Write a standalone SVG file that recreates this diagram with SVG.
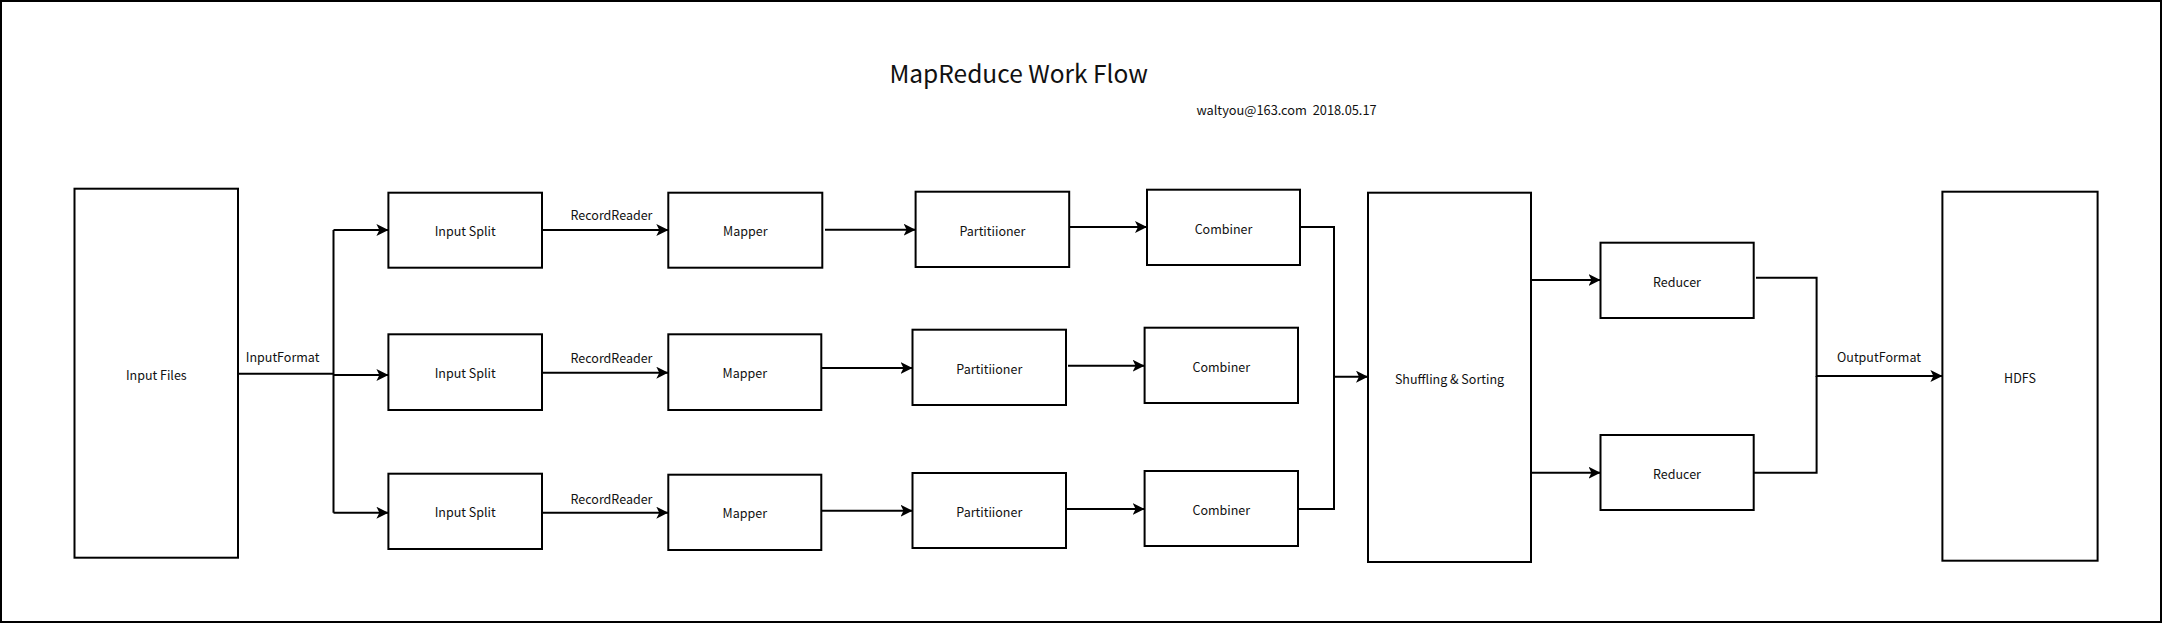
<svg xmlns="http://www.w3.org/2000/svg" width="2163" height="624" viewBox="0 0 2163 624">
<style>
.box{fill:#fff;stroke:#000;stroke-width:2}
.lbl{font-family:"Noto Sans CJK SC","Liberation Sans",sans-serif;font-size:12.5px;fill:#111;text-anchor:middle}
.edge{fill:none;stroke:#000;stroke-width:2}
.title{font-family:"Noto Sans CJK SC","Liberation Sans",sans-serif;font-size:24.5px;fill:#111;text-anchor:middle}
.sub{font-family:"Noto Sans CJK SC","Liberation Sans",sans-serif;font-size:12.8px;fill:#111}
</style>
<defs>
<marker id="arr" viewBox="0 0 12 12" markerWidth="12" markerHeight="12" refX="12" refY="6" orient="auto" markerUnits="userSpaceOnUse">
<path d="M0,0 L12,6 L0,12 L3,6 Z" fill="#000"/>
</marker>
</defs>
<rect x="0" y="0" width="2163" height="624" fill="#fff"/>
<rect id="frame" x="1" y="1" width="2160" height="621" fill="none" stroke="#000" stroke-width="2"/>
<g id="title"><text class="title" x="1018.7" y="82.7">MapReduce Work Flow</text></g>
<g id="subtitle"><text class="sub" x="1196.4" y="115" style="white-space:pre">waltyou@163.com  2018.05.17</text></g>

<g id="connectors">
<path class="edge" d="M238,373.7 H333.5"/>
<path class="edge" d="M333.5,230 V512.7"/>
<path class="edge" d="M333.5,230 H388.4" marker-end="url(#arr)"/>
<path class="edge" d="M333.5,375 H388.4" marker-end="url(#arr)"/>
<path class="edge" d="M333.5,512.7 H388.4" marker-end="url(#arr)"/>
<path class="edge" d="M542,230 H668.3" marker-end="url(#arr)"/>
<path class="edge" d="M542,372.7 H668.3" marker-end="url(#arr)"/>
<path class="edge" d="M542,512.7 H668.3" marker-end="url(#arr)"/>
<path class="edge" d="M825,229.7 H915.6" marker-end="url(#arr)"/>
<path class="edge" d="M821,368 H912.5" marker-end="url(#arr)"/>
<path class="edge" d="M821,510.7 H912.5" marker-end="url(#arr)"/>
<path class="edge" d="M1069,227 H1147" marker-end="url(#arr)"/>
<path class="edge" d="M1068,365.7 H1144.6" marker-end="url(#arr)"/>
<path class="edge" d="M1066,509 H1144.6" marker-end="url(#arr)"/>
<path class="edge" d="M1300,227 H1334 V376.7 H1368" marker-end="url(#arr)"/>
<path class="edge" d="M1298,509 H1334 V376.7"/>
<path class="edge" d="M1531,280 H1600.5" marker-end="url(#arr)"/>
<path class="edge" d="M1531,472.7 H1600.5" marker-end="url(#arr)"/>
<path class="edge" d="M1756,277.7 H1816.6 V376 H1942.4" marker-end="url(#arr)"/>
<path class="edge" d="M1753.7,472.7 H1816.6 V376"/>
<text class="lbl" x="282.6" y="362">InputFormat</text>
<text class="lbl" x="611.5" y="220">RecordReader</text>
<text class="lbl" x="611.5" y="363">RecordReader</text>
<text class="lbl" x="611.5" y="504">RecordReader</text>
<text class="lbl" x="1879" y="362">OutputFormat</text>
</g>

<g id="inputFiles"><rect class="box" x="74.5" y="188.7" width="163.5" height="369"/><text class="lbl" x="156.3" y="379.5">Input Files</text></g>
<g id="split1"><rect class="box" x="388.4" y="192.7" width="153.6" height="75"/><text class="lbl" x="465.2" y="236">Input Split</text></g>
<g id="split2"><rect class="box" x="388.4" y="334.3" width="153.6" height="75.7"/><text class="lbl" x="465.2" y="378">Input Split</text></g>
<g id="split3"><rect class="box" x="388.4" y="473.7" width="153.6" height="75.3"/><text class="lbl" x="465.2" y="517.3">Input Split</text></g>
<g id="mapper1"><rect class="box" x="668.3" y="192.7" width="154" height="75"/><text class="lbl" x="745.3" y="236">Mapper</text></g>
<g id="mapper2"><rect class="box" x="668.3" y="334.3" width="153" height="75.7"/><text class="lbl" x="744.8" y="378">Mapper</text></g>
<g id="mapper3"><rect class="box" x="668.3" y="474.7" width="153" height="75.3"/><text class="lbl" x="744.8" y="518.3">Mapper</text></g>
<g id="part1"><rect class="box" x="915.6" y="191.7" width="153.6" height="75.3"/><text class="lbl" x="992.4" y="235.5">Partitiioner</text></g>
<g id="part2"><rect class="box" x="912.5" y="329.7" width="153.5" height="75.3"/><text class="lbl" x="989.3" y="373.5">Partitiioner</text></g>
<g id="part3"><rect class="box" x="912.5" y="473" width="153.5" height="75"/><text class="lbl" x="989.3" y="516.7">Partitiioner</text></g>
<g id="comb1"><rect class="box" x="1147" y="189.7" width="153" height="75.3"/><text class="lbl" x="1223.5" y="233.5">Combiner</text></g>
<g id="comb2"><rect class="box" x="1144.6" y="327.7" width="153.4" height="75.3"/><text class="lbl" x="1221.3" y="371.5">Combiner</text></g>
<g id="comb3"><rect class="box" x="1144.6" y="471" width="153.4" height="75"/><text class="lbl" x="1221.3" y="514.7">Combiner</text></g>
<g id="shuffle"><rect class="box" x="1368" y="192.7" width="163" height="369.3"/><text class="lbl" x="1449.5" y="383.5">Shuffling &amp; Sorting</text></g>
<g id="reducer1"><rect class="box" x="1600.5" y="242.7" width="153.2" height="75.3"/><text class="lbl" x="1677" y="286.7">Reducer</text></g>
<g id="reducer2"><rect class="box" x="1600.5" y="435" width="153.2" height="75"/><text class="lbl" x="1677" y="478.8">Reducer</text></g>
<g id="hdfs"><rect class="box" x="1942.4" y="191.7" width="155.2" height="369"/><text class="lbl" x="2020" y="382.5">HDFS</text></g>
</svg>
